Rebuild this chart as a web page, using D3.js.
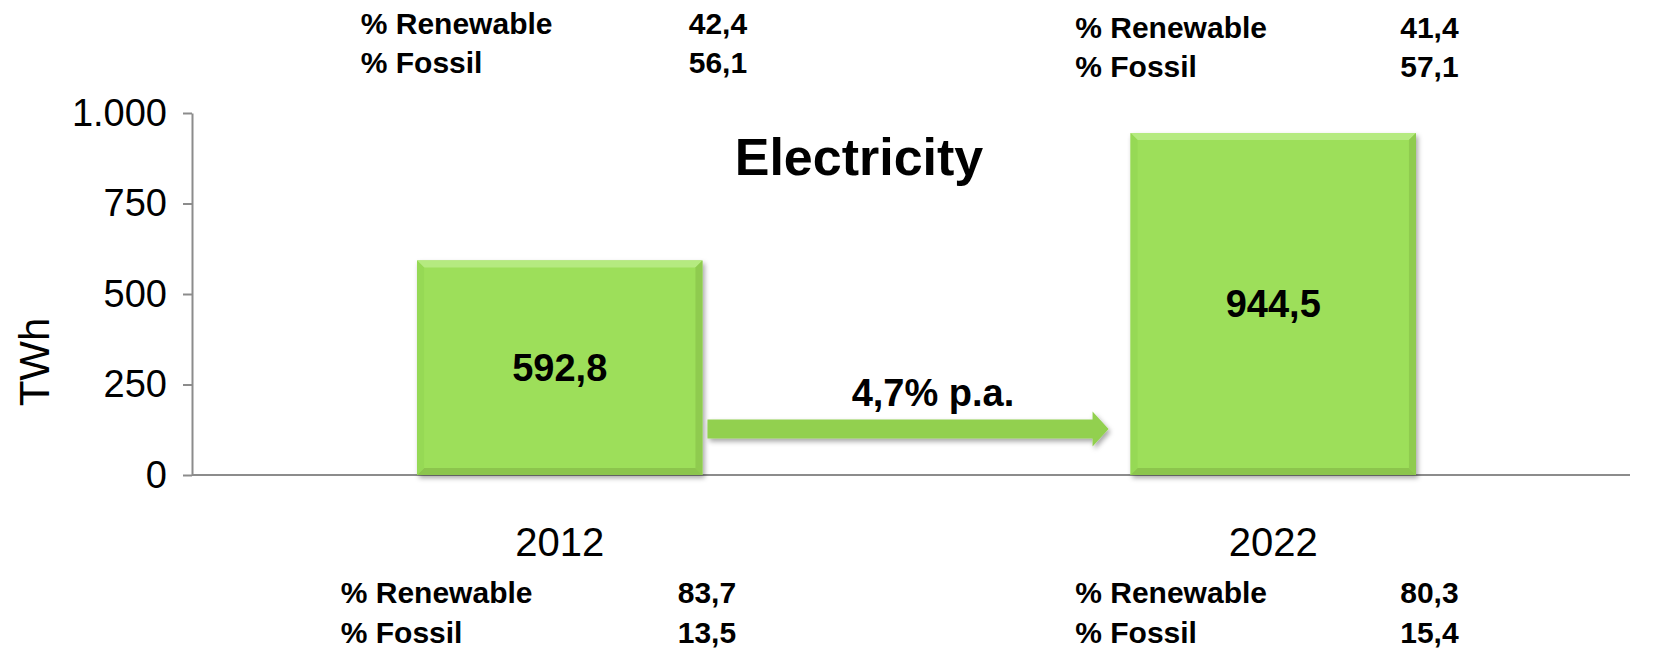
<!DOCTYPE html>
<html>
<head>
<meta charset="utf-8">
<script src="https://cdn.jsdelivr.net/npm/d3@7"></script>
<style>
  body { margin: 0; background: #fff; }
  svg { display: block; font-family: Arial, "Liberation Sans", sans-serif; }
</style>
</head>
<body>
<div class="container"></div>
<script>
var years = ["2012", "2022"];
var electricity = [592.8, 944.5];
var topRenewable = [42.4, 41.4];
var topFossil = [56.1, 57.1];
var bottomRenewable = [83.7, 80.3];
var bottomFossil = [13.5, 15.4];
var yTicks = [0, 250, 500, 750, 1000];
var growthLabel = "4,7% p.a.";
var titleText = "Electricity";
var unitLabel = "TWh";

const WIDTH = 1660;
const HEIGHT = 648;
const AXIS_X = 192;
const BASE_Y = 475;

var de = d3.formatLocale({decimal: ",", thousands: ".", grouping: [3], currency: ["", "€"]});
var fmtInt = de.format(",d");
var fmtOne = de.format(".1f");

var svg = d3.select('.container').append('svg')
  .attr('width', WIDTH)
  .attr('height', HEIGHT);

var xScale = d3.scaleBand()
  .domain(years)
  .range([203, 1630])
  .paddingInner(0.6)
  .paddingOuter(0.3);

var yScale = d3.scaleLinear()
  .domain([0, 1000])
  .range([BASE_Y, 113]);

var defs = svg.append('defs');
var sh = defs.append('filter').attr('id', 'shadow')
  .attr('x', '-10%').attr('y', '-10%').attr('width', '130%').attr('height', '130%');
sh.append('feDropShadow').attr('dx', 2).attr('dy', 3).attr('stdDeviation', 2.5)
  .attr('flood-color', '#000').attr('flood-opacity', 0.35);

// y axis
var yAxis = d3.axisLeft(yScale)
  .tickValues(yTicks)
  .tickFormat(fmtInt)
  .tickSize(9)
  .tickSizeOuter(0)
  .tickPadding(16);

var yg = svg.append('g')
  .attr('transform', 'translate(' + AXIS_X + ',0)')
  .call(yAxis);
yg.select('.domain').attr('stroke', '#8c8c8c').attr('stroke-width', 2);
yg.selectAll('.tick line').attr('stroke', '#8c8c8c').attr('stroke-width', 2);
yg.selectAll('.tick text')
  .attr('font-size', 38)
  .attr('fill', '#000')
  .attr('font-family', 'Arial, "Liberation Sans", sans-serif');

// baseline + category labels
var xAxis = d3.axisBottom(xScale).tickSize(0).tickPadding(53);
var xg = svg.append('g')
  .attr('transform', 'translate(0,' + BASE_Y + ')')
  .call(xAxis);
xg.select('.domain').remove();
xg.selectAll('.tick text')
  .attr('font-size', 40)
  .attr('fill', '#000')
  .attr('font-family', 'Arial, "Liberation Sans", sans-serif');
svg.append('line')
  .attr('x1', AXIS_X).attr('x2', 1630)
  .attr('y1', BASE_Y).attr('y2', BASE_Y)
  .attr('stroke', '#8c8c8c').attr('stroke-width', 2);

// unit label
svg.append('text')
  .attr('transform', 'translate(49,362) rotate(-90)')
  .attr('text-anchor', 'middle')
  .attr('font-size', 42)
  .text(unitLabel);

// bars with bevel
var B = 7;
var bars = svg.selectAll('.bar')
  .data(electricity)
  .enter().append('g')
  .attr('class', 'bar')
  .attr('filter', 'url(#shadow)');

bars.each(function(d, i) {
  var g = d3.select(this);
  var x0 = xScale(years[i]);
  var x1 = x0 + xScale.bandwidth();
  var y0 = yScale(d);
  var y1 = yScale(0);
  g.append('rect')
    .attr('x', x0).attr('y', y0)
    .attr('width', x1 - x0).attr('height', y1 - y0)
    .attr('fill', '#9ddf5a');
  var bevel = [
    {pts: [[x0, y0], [x1, y0], [x1 - B, y0 + B], [x0 + B, y0 + B]], c: '#b5ea80'},
    {pts: [[x1, y0], [x1, y1], [x1 - B, y1 - B], [x1 - B, y0 + B]], c: '#8fcb4f'},
    {pts: [[x0, y1], [x1, y1], [x1 - B, y1 - B], [x0 + B, y1 - B]], c: '#8cc54e'},
    {pts: [[x0, y0], [x0 + B, y0 + B], [x0 + B, y1 - B], [x0, y1]], c: '#96d955'}
  ];
  bevel.forEach(function(p) {
    g.append('polygon')
      .attr('points', p.pts.map(function(q) { return q.join(','); }).join(' '))
      .attr('fill', p.c);
  });
});

// value labels
svg.selectAll('.val')
  .data(electricity)
  .enter().append('text')
  .attr('class', 'val')
  .attr('x', function(d, i) { return xScale(years[i]) + xScale.bandwidth() / 2; })
  .attr('y', function(d) { return (yScale(d) + yScale(0)) / 2 + 13; })
  .attr('text-anchor', 'middle')
  .attr('font-size', 38)
  .attr('font-weight', 'bold')
  .text(function(d) { return fmtOne(d); });

// title
svg.append('text')
  .attr('x', 859).attr('y', 175)
  .attr('text-anchor', 'middle')
  .attr('font-size', 52)
  .attr('font-weight', 'bold')
  .text(titleText);

// growth arrow
var ax0 = xScale(years[0]) + xScale.bandwidth() + 5;
var ax1 = xScale(years[1]) - 22;
var ay = yScale(127);
var shaft = 9.5, head = 17.5, headLen = 16;
svg.append('polygon')
  .attr('points', [
    [ax0, ay - shaft], [ax1 - headLen, ay - shaft], [ax1 - headLen, ay - head],
    [ax1, ay], [ax1 - headLen, ay + head], [ax1 - headLen, ay + shaft], [ax0, ay + shaft]
  ].map(function(q) { return q.join(','); }).join(' '))
  .attr('fill', '#92d050')
  .attr('filter', 'url(#shadow)');

svg.append('text')
  .attr('x', 933).attr('y', 406)
  .attr('text-anchor', 'middle')
  .attr('font-size', 38)
  .attr('font-weight', 'bold')
  .text(growthLabel);

// share tables
var tables = [
  {ren: topRenewable, fos: topFossil, rows: [[34, 73], [38, 77]], lab: [-199, -198], val: [129, 127]},
  {ren: bottomRenewable, fos: bottomFossil, rows: [[603, 643], [603, 643]], lab: [-219, -198], val: [118, 127]}
];

tables.forEach(function(t) {
  years.forEach(function(yr, i) {
    var cx = xScale(yr) + xScale.bandwidth() / 2;
    var rowsData = [["% Renewable", t.ren[i]], ["% Fossil", t.fos[i]]];
    rowsData.forEach(function(r, j) {
      svg.append('text')
        .attr('x', cx + t.lab[i]).attr('y', t.rows[i][j])
        .attr('font-size', 30).attr('font-weight', 'bold')
        .text(r[0]);
      svg.append('text')
        .attr('x', cx + t.val[i]).attr('y', t.rows[i][j])
        .attr('font-size', 30).attr('font-weight', 'bold')
        .text(fmtOne(r[1]));
    });
  });
});
</script>
</body>
</html>
